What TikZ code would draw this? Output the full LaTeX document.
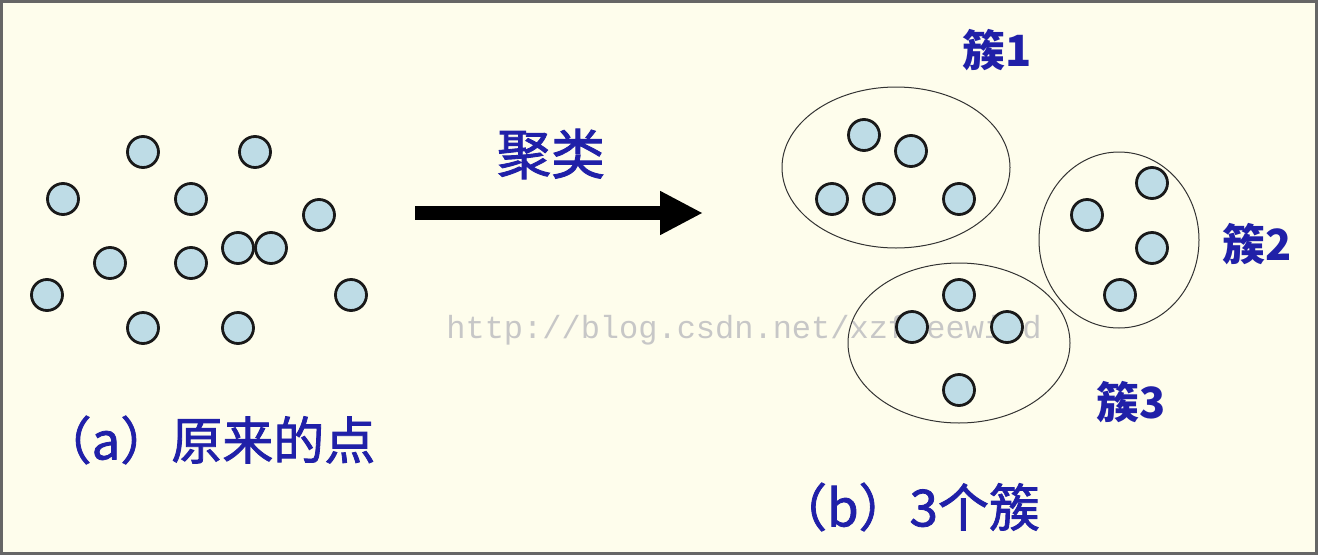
\documentclass[tikz,border=0pt]{standalone}
\usepackage{fontspec}
\newfontfamily\cjk{Noto Sans CJK SC}
\newfontfamily\cjkmid[FakeBold=1.6]{Noto Sans CJK SC}
\setmonofont{Liberation Mono}
\usetikzlibrary{arrows.meta}
\definecolor{paper}{RGB}{254,253,236}
\definecolor{dotfill}{RGB}{190,220,230}
\definecolor{inkblue}{RGB}{32,32,168}

\begin{document}
\begin{tikzpicture}[x=1pt,y=-1pt,
  sample/.style={circle,draw=black!90,line width=2.8pt,fill=dotfill,
    minimum size=31pt,inner sep=0pt},
  caption/.style={text=inkblue,font=\cjkmid\fontsize{51}{54}\selectfont},
  tag/.style={text=inkblue,font=\cjk\bfseries\fontsize{43}{46}\selectfont}]
  \useasboundingbox (0,0) rectangle (1318,555);
  \fill[paper] (0,0) rectangle (1318,555);
  \draw[black!60,line width=3pt] (1.5,1.5) rectangle (1316.5,553.5);

  \node[text=black!22,font=\ttfamily\fontsize{32}{34}\selectfont] (mark)
    at (744,330) {http://blog.csdn.net/xzfreewind};

  % original points
  \foreach \x/\y [count=\i] in {143/152,255/152,63/199,191/199,319/215,
      238/248,271/248,110/263,191/263,47/295,351/295,143/328,238/328}
    \node[sample] (p\i) at (\x,\y) {};

  % the three clusters
  \begin{scope}[draw=black!80,line width=1pt]
  \draw (896,167.5) ellipse [x radius=114,y radius=80.5];
  \draw (1119,240) ellipse [x radius=80,y radius=88];
  \draw (959,343) ellipse [x radius=111,y radius=80];
  \end{scope}
  \foreach \x/\y [count=\i] in {864/135,911/151,832/199,879/199,959/199}
    \node[sample] (c1\i) at (\x,\y) {};
  \foreach \x/\y [count=\i] in {1152/183,1087/215,1152/248,1120/295}
    \node[sample] (c2\i) at (\x,\y) {};
  \foreach \x/\y [count=\i] in {959/295,912/327,1007/327,959/390}
    \node[sample] (c3\i) at (\x,\y) {};

  \node[tag] (t1) at (997,50) {簇1};
  \node[tag] (t2) at (1257,244) {簇2};
  \node[tag] (t3) at (1131,402) {簇3};

  % arrow
  \coordinate (from) at (415,213);
  \coordinate (to) at (703,213);
  \draw[line width=14pt,-{Triangle[length=43pt,width=41pt]}] (from) -- (to);
  \node[caption,font=\cjkmid\fontsize{54}{58}\selectfont] (verb)
    at (551,154) {聚类};

  \node[caption] (capa) at (208,440) {（a）原来的点};
  \node[caption] (capb) at (908,507) {（b）3个簇};
\end{tikzpicture}
\end{document}
